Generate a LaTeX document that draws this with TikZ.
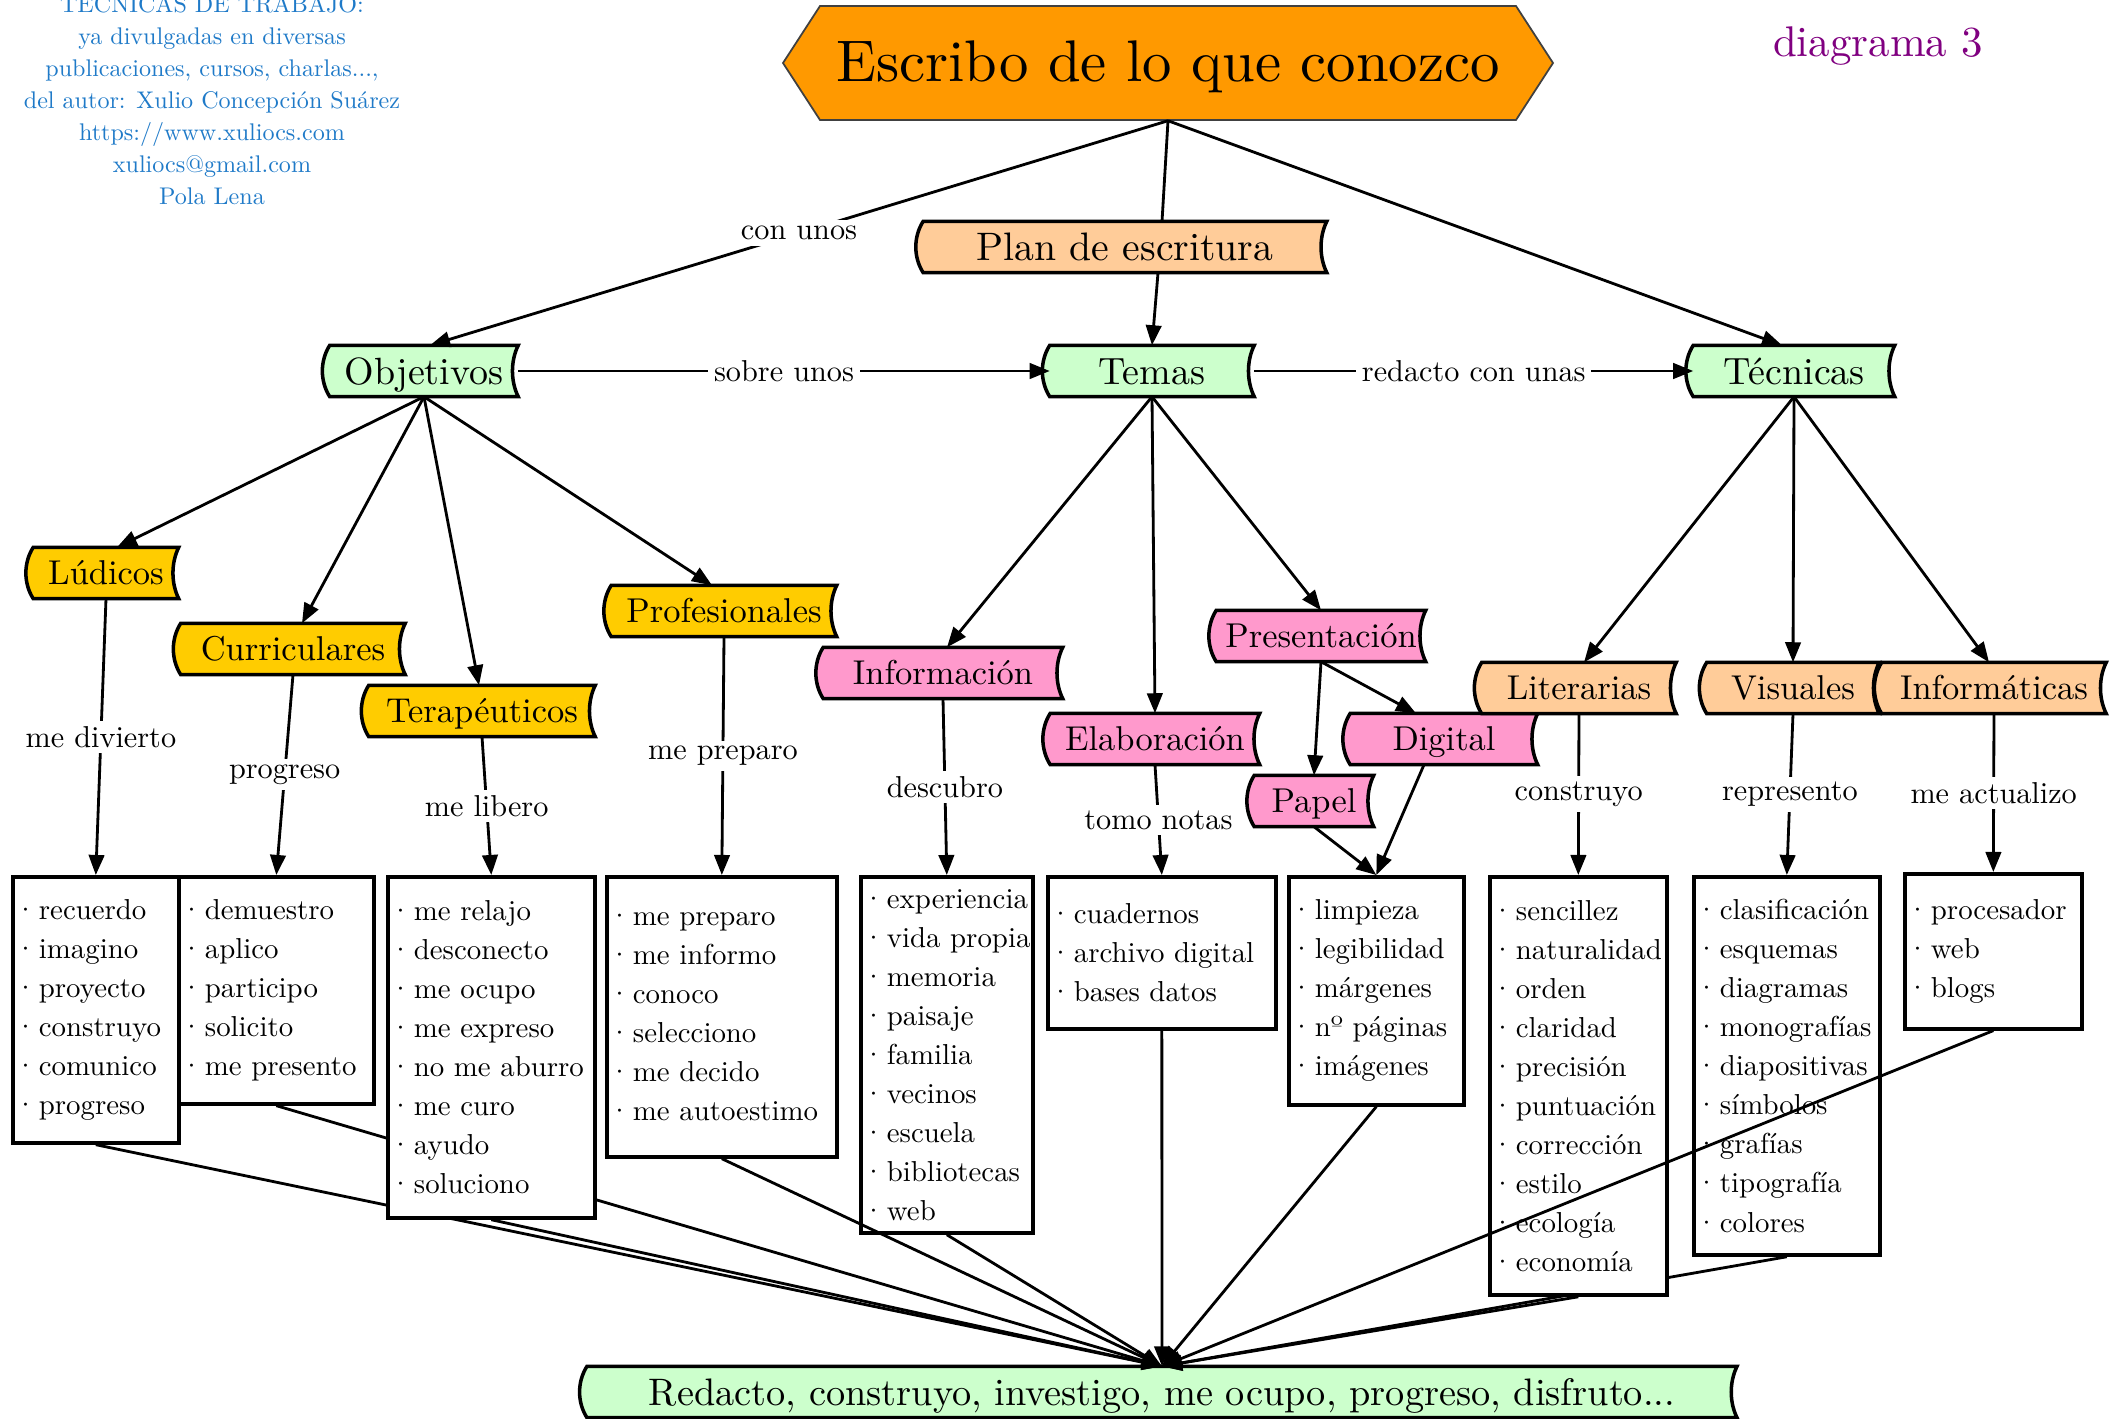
\documentclass[tikz,border=0pt]{standalone}
\usepackage{fontspec}
\setmainfont{lmroman10-regular.otf}[BoldFont=lmroman10-bold.otf, ItalicFont=lmroman10-italic.otf]
\usetikzlibrary{arrows.meta,calc,backgrounds}
\definecolor{cgreen}{HTML}{CCFFCC}
\definecolor{cyellow}{HTML}{FFCC00}
\definecolor{cpink}{HTML}{FF99CC}
\definecolor{cpeach}{HTML}{FFCC99}
\definecolor{corange}{HTML}{FF9900}
\definecolor{cblue}{HTML}{1F7AC8}
\definecolor{cpurple}{HTML}{800080}
\newcommand\bi[1]{\mbox{\kern-0.08em·\hspace{0.07em}#1}}
\newcommand\scrollfill[2]{%
  \begin{pgfonlayer}{background}
    \path[fill=#2, draw=black, line width=1pt]
      (#1.north west) .. controls +(-2.8pt,-4.4pt) and +(-2.8pt,4.4pt) .. (#1.south west)
      -- (#1.south east) .. controls +(-2.2pt,4.4pt) and +(-2.2pt,-4.4pt) .. (#1.north east) -- cycle;
  \end{pgfonlayer}}
\begin{document}
\begin{tikzpicture}[x=0.01cm,y=-0.01cm,
  arr/.style={draw, line width=0.8pt, -{Triangle[length=5.7pt,width=4.4pt]}},
  ln/.style={draw, line width=0.8pt},
  lbl/.style={fill=white, inner sep=1.6pt, font=\fontsize{8.6}{10}\selectfont},
  sc/.style={inner sep=0pt, minimum height=0.5cm},
  fA/.style={font=\fontsize{10.8}{13}\selectfont, text height=9.6pt, text depth=2.2pt},
  fB/.style={font=\fontsize{9.8}{12}\selectfont, text height=8.9pt, text depth=2.2pt},
  fP/.style={font=\fontsize{11.3}{13}\selectfont, text height=9.9pt, text depth=2.2pt},
  box/.style={draw, fill=white, line width=1pt, anchor=north west, inner xsep=0.04cm, inner ysep=0pt, align=left, font=\fontsize{8.2}{11.1}\selectfont},
]
\useasboundingbox (0,0) rectangle (2118,1418);

% header texts
\node[font=\fontsize{6.85}{9.1}\selectfont, text=cblue, align=center] (credit) at (212,98)
  {TÉCNICAS DE TRABAJO:\\ya divulgadas en diversas\\publicaciones, cursos, charlas...,\\del autor: Xulio Concepción Suárez\\https://www.xuliocs.com\\xuliocs@gmail.com\\Pola Lena};
\node[font=\fontsize{12.2}{14}\selectfont, text=cpurple] (diag) at (1878,46) {diagrama 3};

% title
\path[fill=corange, draw=black!75, line width=0.5pt] (783,63) -- (820,6) -- (1516,6) -- (1553,63) -- (1516,120) -- (820,120) -- cycle;
\node[minimum height=1.06cm, inner sep=0pt, font=\fontsize{16.7}{20}\selectfont] (title) at (1168,67) {Escribo de lo que conozco};

% scroll nodes
\node[sc, fP, minimum width=4.02cm] (plan) at (1125,247) {Plan de escritura};
\node[sc, fA, minimum width=1.87cm] (obj) at (424,371) {Objetivos};
\node[sc, fA, minimum width=2.03cm] (temas) at (1152,371) {Temas};
\node[sc, fA, minimum width=2.00cm] (tec) at (1794,371) {Técnicas};
\node[sc, fB, minimum width=1.44cm] (lud) at (106,573) {Lúdicos};
\node[sc, fB, minimum width=2.23cm] (cur) at (293,649) {Curriculares};
\node[sc, fB, minimum width=2.25cm] (ter) at (482,711) {Terapéuticos};
\node[sc, fB, minimum width=2.24cm] (pro) at (724,611) {Profesionales};
\node[sc, fB, minimum width=2.38cm] (info) at (943,673) {Información};
\node[sc, fB, minimum width=2.08cm] (elab) at (1155,739) {Elaboración};
\node[sc, fB, minimum width=2.08cm] (pres) at (1321,636) {Presentación};
\node[sc, fB, minimum width=1.86cm] (dig) at (1444,739) {Digital};
\node[sc, fB, minimum width=1.18cm] (pap) at (1314,801) {Papel};
\node[sc, fB, minimum width=1.93cm] (lit) at (1579,688) {Literarias};
\node[sc, fB, minimum width=1.71cm] (vis) at (1793,688) {Visuales};
\node[sc, fB, minimum width=2.23cm] (inf) at (1994,688) {Informáticas};
\node[sc, font=\fontsize{10.9}{13}\selectfont, text height=9.6pt, text depth=2.2pt, minimum width=11.48cm] (bottom) at (1162,1392) {Redacto, construyo, investigo, me ocupo, progreso, disfruto...};

\scrollfill{plan}{cpeach}
\scrollfill{obj}{cgreen}
\scrollfill{temas}{cgreen}
\scrollfill{tec}{cgreen}
\scrollfill{lud}{cyellow}
\scrollfill{cur}{cyellow}
\scrollfill{ter}{cyellow}
\scrollfill{pro}{cyellow}
\scrollfill{info}{cpink}
\scrollfill{elab}{cpink}
\scrollfill{pres}{cpink}
\scrollfill{dig}{cpink}
\scrollfill{pap}{cpink}
\scrollfill{lit}{cpeach}
\scrollfill{vis}{cpeach}
\scrollfill{inf}{cpeach}
\scrollfill{bottom}{cgreen}

% boxes
\node[box, text width=1.58cm, minimum height=2.66cm] (b1) at (11,875) {\bi{recuerdo}\\\bi{imagino}\\\bi{proyecto}\\\bi{construyo}\\\bi{comunico}\\\bi{progreso}};
\node[box, text width=1.87cm, minimum height=2.27cm] (b2) at (177,875) {\bi{demuestro}\\\bi{aplico}\\\bi{participo}\\\bi{solicito}\\\bi{me presento}};
\node[box, text width=1.99cm, minimum height=3.41cm] (b3) at (386,875) {\bi{me relajo}\\\bi{desconecto}\\\bi{me ocupo}\\\bi{me expreso}\\\bi{no me aburro}\\\bi{me curo}\\\bi{ayudo}\\\bi{soluciono}};
\node[box, text width=2.22cm, minimum height=2.80cm] (b4) at (605,875) {\bi{me preparo}\\\bi{me informo}\\\bi{conoco}\\\bi{selecciono}\\\bi{me decido}\\\bi{me autoestimo}};
\node[box, text width=1.64cm, minimum height=3.56cm] (b5) at (859,875) {\bi{experiencia}\\\bi{vida propia}\\\bi{memoria}\\\bi{paisaje}\\\bi{familia}\\\bi{vecinos}\\\bi{escuela}\\\bi{bibliotecas}\\\bi{web}};
\node[box, text width=2.20cm, minimum height=1.52cm] (b6) at (1046,875) {\bi{cuadernos}\\\bi{archivo digital}\\\bi{bases datos}};
\node[box, text width=1.67cm, minimum height=2.28cm] (b7) at (1287,875) {\bi{limpieza}\\\bi{legibilidad}\\\bi{márgenes}\\\bi{nº páginas}\\\bi{imágenes}};
\node[box, text width=1.69cm, minimum height=4.18cm] (b8) at (1488,875) {\bi{sencillez}\\\bi{naturalidad}\\\bi{orden}\\\bi{claridad}\\\bi{precisión}\\\bi{puntuación}\\\bi{corrección}\\\bi{estilo}\\\bi{ecología}\\\bi{economía}};
\node[box, text width=1.78cm, minimum height=3.78cm] (b9) at (1692,875) {\bi{clasificación}\\\bi{esquemas}\\\bi{diagramas}\\\bi{monografías}\\\bi{diapositivas}\\\bi{símbolos}\\\bi{grafías}\\\bi{tipografía}\\\bi{colores}};
\node[box, text width=1.69cm, minimum height=1.55cm] (b10) at (1903,872) {\bi{procesador}\\\bi{web}\\\bi{blogs}};

% top connectors
\draw[arr] (title.south) -- node[lbl]{con unos} ([xshift=0.06cm]obj.north);
\draw[ln] (title.south) -- ([xshift=0.37cm]plan.north);
\draw[arr] ([xshift=0.33cm]plan.south) -- (temas.north);
\draw[arr] (title.south) -- ([xshift=-0.12cm]tec.north);
\draw[arr] (obj.east) -- node[lbl]{sobre unos} (temas.west);
\draw[arr] (temas.east) -- node[lbl]{redacto con unas} (tec.west);

\draw[arr] (obj.south) -- ([xshift=0.11cm]lud.north);
\draw[arr] (obj.south) -- ([xshift=0.09cm]cur.north);
\draw[arr] (obj.south) -- ([xshift=-0.03cm]ter.north);
\draw[arr] (obj.south) -- ([xshift=-0.12cm]pro.north);
\draw[arr] (temas.south) -- ([xshift=0.04cm]info.north);
\draw[arr] (temas.south) -- (elab.north);
\draw[arr] (temas.south) -- (pres.north);
\draw[arr] (tec.south) -- ([xshift=0.05cm]lit.north);
\draw[arr] (tec.south) -- (vis.north);
\draw[arr] (tec.south) -- ([xshift=-0.05cm]inf.north);
\draw[arr] (pres.south) -- (pap.north);
\draw[arr] (pres.south) -- ([xshift=-0.28cm]dig.north);
\draw[arr] (pap.south) -- (b7.north);
\draw[arr] ([xshift=-0.2cm]dig.south) -- (b7.north);

% labelled connectors
\draw[arr] (lud.south) -- node[lbl]{me divierto} (b1.north);
\draw[arr] (cur.south) -- node[lbl]{progreso} (b2.north);
\draw[arr] (ter.south) -- node[lbl]{me libero} (b3.north);
\draw[arr] (pro.south) -- node[lbl]{me preparo} (b4.north);
\draw[arr] (info.south) -- node[lbl]{descubro} (b5.north);
\draw[arr] (elab.south) -- node[lbl]{tomo notas} (b6.north);
\draw[arr] (lit.south) -- node[lbl]{construyo} (b8.north);
\draw[arr] (vis.south) -- node[lbl]{represento} (b9.north);
\draw[arr] (inf.south) -- node[lbl]{me actualizo} (b10.north);

% to the bottom node
\begin{pgfonlayer}{background}
\draw[arr] (b1.south) -- (bottom.north);
\draw[arr] (b2.south) -- (bottom.north);
\draw[arr] (b9.south) -- (bottom.north);
\end{pgfonlayer}
\draw[arr] (b3.south) -- (bottom.north);
\draw[arr] (b4.south) -- (bottom.north);
\draw[arr] (b5.south) -- (bottom.north);
\draw[arr] (b6.south) -- (bottom.north);
\draw[arr] (b7.south) -- (bottom.north);
\draw[arr] (b8.south) -- (bottom.north);
\draw[arr] (b10.south) -- (bottom.north);
\end{tikzpicture}
\end{document}
